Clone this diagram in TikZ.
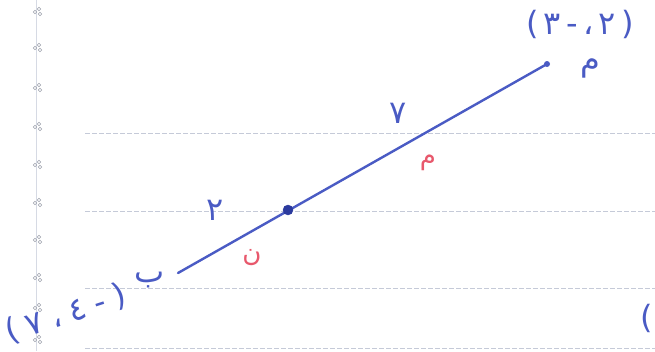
\documentclass[tikz,border=0pt]{standalone}
\usepackage{fontspec}
\newfontfamily\arabicfont[Script=Arabic]{DejaVu Sans}
\newfontfamily\parenfont{DejaVu Sans}
\TeXXeTstate=1
\definecolor{pen}{HTML}{4A5BC4}
\definecolor{pendark}{HTML}{2B3A9E}
\definecolor{redpen}{HTML}{E8586C}
\definecolor{ruling}{HTML}{C5CAD8}
\newcommand{\gl}[1]{\hbox{#1}}
\newcommand{\lp}{{\parenfont(}}
\newcommand{\rp}{{\parenfont)}}
\tikzset{
  ink/.style={text=pen, font=\arabicfont\fontsize{32}{36}\selectfont, inner sep=0pt},
  redink/.style={text=redpen, font=\arabicfont\fontsize{26}{30}\selectfont, inner sep=0pt},
  rule/.style={ruling, line width=0.9pt, dash pattern=on 5pt off 2pt},
}
\begin{document}
\begin{tikzpicture}[x=1pt,y=-1pt]
\useasboundingbox (0,0) rectangle (655,351);
\fill[white] (0,0) rectangle (655,351);
% notebook ruling
\draw[ruling!70, line width=0.6pt] (36,0) -- (36,351);
\foreach \y in {133,211,288,348}
\draw[rule] (85,\y) -- (655,\y);
\foreach \y in {12,48,88,127,165,203,240,278,308,340}
{\draw[ruling!80!black, line width=0.5pt] (35,\y) circle[radius=1.7];
 \draw[ruling!80!black, line width=0.5pt] (39,\y-3) circle[radius=1.7];
 \draw[ruling!80!black, line width=0.5pt] (40,\y+2) circle[radius=1.7];}
% segment
\coordinate (b) at (178,273);
\coordinate (a) at (547,64);
\draw[pen, line width=2.4pt, line cap=round] (b) -- (a);
\fill[pen] (a) circle[radius=3];
\filldraw[pendark] (288,210) circle[radius=5] coordinate (d);
% end points
\node[ink] (alab) at (580,24) {\lp\,\gl{٣}\,-\,\gl{،}\,\gl{٢}\,\rp};
\node[ink] (aname) at (590,68) {م};
\node[ink, rotate=18] (blab) at (66,314) {\lp\;\gl{٧}\;\gl{،}\;\gl{٤}\;-\;\rp};
\node[ink] (bname) at (150,280) {ب};
% ratio
\node[ink] (nval) at (215,210) {٢};
\node[ink] (mval) at (398,113) {٧};
\node[redink] (npart) at (252,258) {ن};
\node[redink] (mpart) at (428,163) {م};
\node[ink] (edge) at (647,318) {\lp};
\end{tikzpicture}
\end{document}
